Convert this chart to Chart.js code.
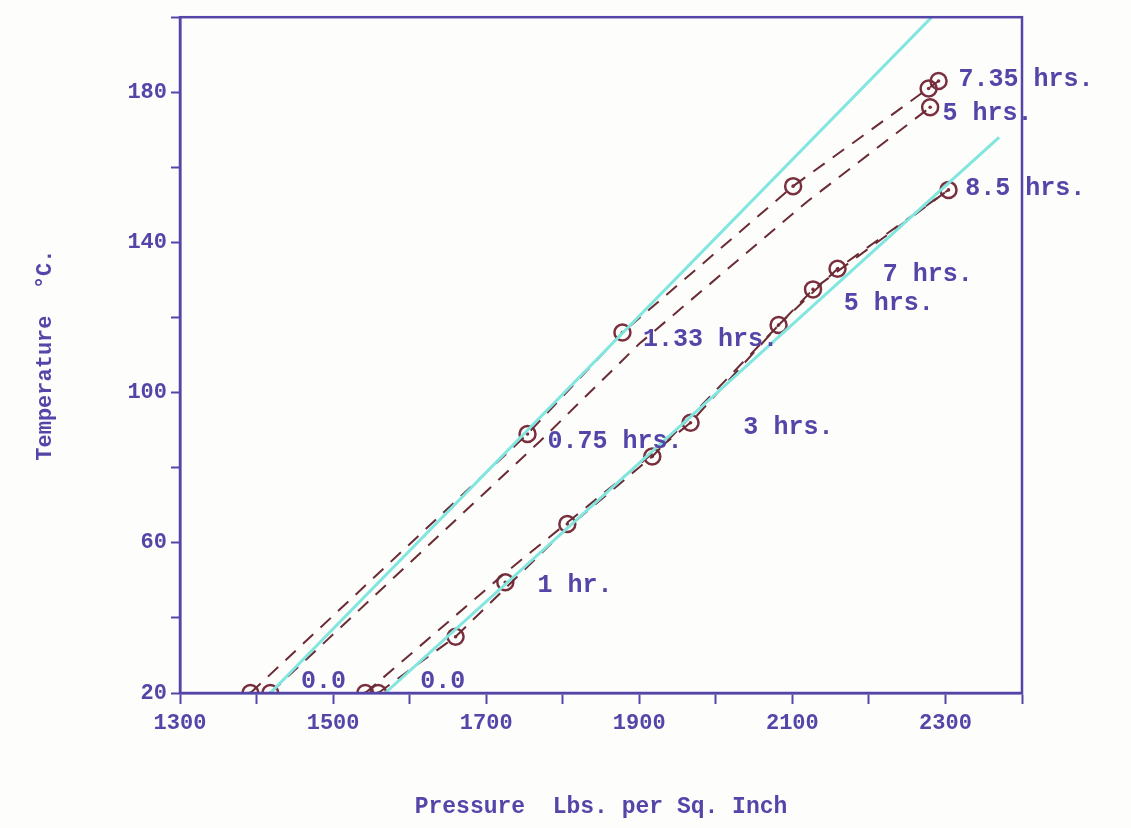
<!DOCTYPE html>
<html>
<head>
<meta charset="utf-8">
<script src="https://cdn.jsdelivr.net/npm/chart.js@4.4.0/dist/chart.umd.min.js"></script>
<style>
  body { margin: 0; background: #fdfdfb; }
  canvas { display: block; }
</style>
</head>
<body>
<canvas id="pressureChart" width="1131" height="828"></canvas>
<script>
// axis tick labels
const pressureTicks = [1300, 1500, 1700, 1900, 2100, 2300];
const tempTicks = [20, 60, 100, 140, 180];

// measured points, first run (upper group)
const runAPressure = [1392, 1418, 1754, 1878, 2101, 2278, 2280, 2291];
const runATemp = [20, 20, 89, 116, 155, 181, 176, 183];

// measured points, second run (lower group)
const runBPressure = [1542, 1559, 1660, 1725, 1806, 1917, 1967, 2082, 2127, 2159, 2304];
const runBTemp = [20, 20, 35, 49.5, 65, 83, 92, 118, 127.5, 133, 154];

// dashed curves
const dashA1Pressure = [1392, 1754, 1878, 2101, 2291];
const dashA1Temp = [20, 89, 116, 155, 183];
const dashA2Pressure = [1418, 1770, 1900, 2120, 2280];
const dashA2Temp = [20, 87, 113, 151, 176];
const dashB1Pressure = [1542, 1725, 1967, 2082, 2159, 2304];
const dashB1Temp = [20, 52, 92, 118, 133, 154];
const dashB2Pressure = [1559, 1660, 1806, 1917, 2127, 2304];
const dashB2Temp = [20, 35, 64, 83, 127.5, 154];

// straight reference lines
const lineAPressure = [1418, 2282];
const lineATemp = [20, 200];
const lineBPressure = [1568, 2370];
const lineBTemp = [20, 168];

// time notes next to the points
const noteText = ['0.0', '0.0', '0.75 hrs.', '1 hr.', '1.33 hrs.', '3 hrs.', '7 hrs.', '5 hrs.', '7.35 hrs.', '5 hrs.', '8.5 hrs.'];
const notePressure = [1458, 1614, 1780, 1767, 1905, 2036, 2218, 2167, 2317, 2296, 2326];
const noteTemp = [23, 23, 87, 48.7, 114, 90.6, 131.5, 123.8, 183.3, 174.2, 154.3];

const ink = '#5446a8';
const maroon = '#7a2f3e';
const dashColor = '#6b2b35';
const cyan = '#80e6df';
const typeFont = 'Liberation Mono, Courier New, monospace';

const pairs = (xs, ys) => xs.map((x, i) => ({ x: x, y: ys[i] }));

function lineSet(xs, ys, color, width, dash) {
    return {
        data: pairs(xs, ys),
        showLine: true,
        borderColor: color,
        borderWidth: width,
        borderDash: dash,
        pointRadius: 0,
        fill: false,
        tension: 0
    };
}

const allPoints = pairs(runAPressure, runATemp).concat(pairs(runBPressure, runBTemp));

const frameAndNotes = {
    id: 'frameAndNotes',
    afterDatasetsDraw(chart) {
        const { ctx, chartArea, scales } = chart;
        ctx.save();
        ctx.strokeStyle = ink;
        ctx.lineWidth = 2.5;
        ctx.strokeRect(chartArea.left, chartArea.top, chartArea.right - chartArea.left, chartArea.bottom - chartArea.top);
        ctx.fillStyle = ink;
        ctx.font = 'bold 25px ' + typeFont;
        ctx.textAlign = 'left';
        ctx.textBaseline = 'middle';
        noteText.forEach((t, i) => {
            ctx.fillText(t, scales.x.getPixelForValue(notePressure[i]), scales.y.getPixelForValue(noteTemp[i]));
        });
        ctx.restore();
    }
};

const ctx = document.getElementById('pressureChart').getContext('2d');
const pressureChart = new Chart(ctx, {
    type: 'scatter',
    data: {
        datasets: [
            lineSet(lineAPressure, lineATemp, cyan, 3, []),
            lineSet(lineBPressure, lineBTemp, cyan, 3, []),
            lineSet(dashA1Pressure, dashA1Temp, dashColor, 2, [14, 10]),
            lineSet(dashA2Pressure, dashA2Temp, dashColor, 2, [14, 10]),
            lineSet(dashB1Pressure, dashB1Temp, dashColor, 2, [14, 10]),
            lineSet(dashB2Pressure, dashB2Temp, dashColor, 2, [14, 10]),
            {
                data: allPoints,
                pointRadius: 8,
                pointBorderWidth: 2.5,
                pointBorderColor: maroon,
                pointBackgroundColor: 'rgba(255,255,255,0)'
            },
            {
                data: allPoints,
                pointRadius: 1.8,
                pointBorderWidth: 0,
                pointBackgroundColor: maroon
            }
        ]
    },
    options: {
        responsive: false,
        animation: false,
        layout: { padding: { top: 15, right: 109, left: 0, bottom: 0 } },
        plugins: {
            legend: { display: false },
            tooltip: { enabled: false }
        },
        scales: {
            x: {
                type: 'linear',
                min: 1300,
                max: 2400,
                afterFit: (scale) => { scale.height = 135; },
                border: { color: ink, width: 2.5 },
                grid: { drawOnChartArea: false, tickLength: 11, color: ink, tickWidth: 2 },
                ticks: {
                    stepSize: 100,
                    autoSkip: false,
                    maxRotation: 0,
                    padding: 6,
                    color: ink,
                    font: { family: typeFont, size: 22, weight: 'bold' },
                    callback: (v) => pressureTicks.includes(v) ? String(v) : ''
                },
                title: {
                    display: true,
                    text: 'Pressure  Lbs. per Sq. Inch',
                    color: ink,
                    font: { family: typeFont, size: 23, weight: 'bold' },
                    padding: { top: 0, bottom: 7 }
                }
            },
            y: {
                type: 'linear',
                min: 20,
                max: 200,
                afterFit: (scale) => { scale.width = 180; },
                border: { color: ink, width: 2.5 },
                grid: { drawOnChartArea: false, tickLength: 9, color: ink, tickWidth: 2 },
                ticks: {
                    stepSize: 20,
                    autoSkip: false,
                    padding: 4,
                    color: ink,
                    font: { family: typeFont, size: 22, weight: 'bold' },
                    callback: (v) => tempTicks.includes(v) ? String(v) : ''
                },
                title: {
                    display: true,
                    text: 'Temperature  \u00B0C.',
                    color: ink,
                    font: { family: typeFont, size: 22, weight: 'bold' },
                    padding: { top: 32, bottom: 0 }
                }
            }
        }
    },
    plugins: [frameAndNotes]
});
</script>
</body>
</html>
